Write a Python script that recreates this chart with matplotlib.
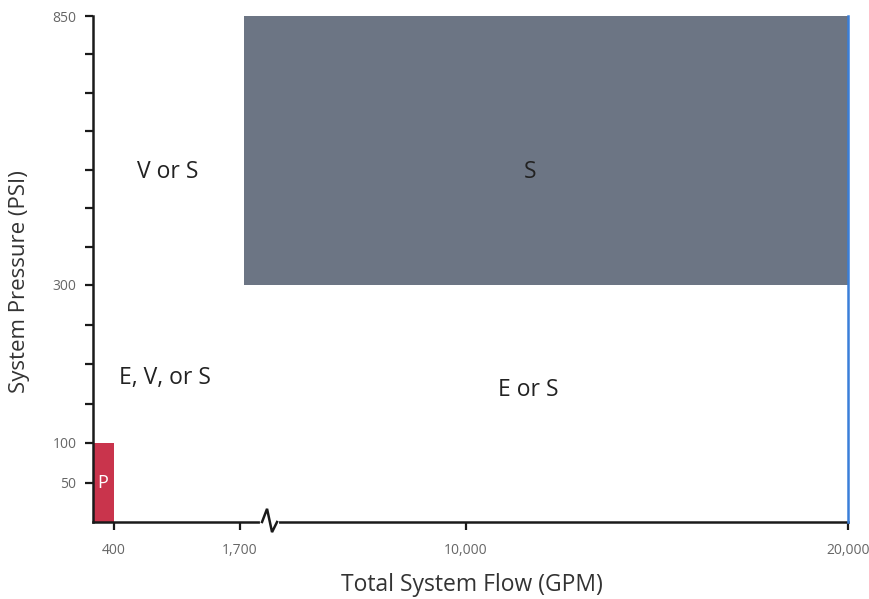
import matplotlib
matplotlib.use("Agg")
import matplotlib.pyplot as plt
import matplotlib.transforms as mtransforms
import numpy as np

plt.rcParams["font.family"] = ["Open Sans", "DejaVu Sans"]

# piecewise axis breakpoints (value -> relative length along the axis)
flow_breaks = [0, 400, 1700, 10000, 20000]
flow_pos = [0, 21, 147, 373, 755]
psi_breaks = [0, 300, 850]
psi_pos = [0, 237, 506]

flow_ticks = [400, 1700, 10000, 20000]
flow_labels = ["400", "1,700", "10,000", "20,000"]
psi_labeled = [50, 100, 300, 850]
psi_minor = [150, 200, 250] + [300 + k * 550 / 7 for k in range(1, 7)]

# regions: (flow_lo, flow_hi, psi_lo, psi_hi)
s_zone = (1850, 20000, 300, 850)
p_zone = (0, 400, 0, 100)
flow_max = 20000
break_at = 2730

zone_labels = [("V or S", 957, 531), ("S", 11675, 531),
               ("E, V, or S", 926, 182), ("E or S", 11620, 167)]


def fwd(b, p):
    return (lambda v: np.interp(v, b, p), lambda v: np.interp(v, p, b))


fig = plt.figure(figsize=(8.69, 5.99), dpi=100)
ax = fig.add_axes([93 / 869, 1 - 522 / 599, 755 / 869, 506 / 599])
ax.set_xscale("function", functions=fwd(flow_breaks, flow_pos))
ax.set_yscale("function", functions=fwd(psi_breaks, psi_pos))
ax.set_xlim(0, flow_max)
ax.set_ylim(0, 850)

x0, x1, y0, y1 = s_zone
ax.fill_between([x0, x1], y0, 858, color="#6c7584", lw=0, clip_on=False, zorder=1)
x0, x1, y0, y1 = p_zone
ax.fill_between([x0, x1], y0, y1, color="#c9344c", lw=0, zorder=1)
ax.plot([flow_max, flow_max], [0, 858], color="#3a7fd9", lw=1.8, clip_on=False, zorder=3)

for txt, fx, py in zone_labels:
    ax.text(fx, py, txt, fontsize=16.5, color="#222222", ha="center", va="center",
            fontweight="medium", zorder=4)
ax.text(190, 50, "P", fontsize=13, color="white", ha="center", va="center", zorder=4)

for side in ("top", "right"):
    ax.spines[side].set_visible(False)
for side in ("left", "bottom"):
    ax.spines[side].set_linewidth(1.8)
    ax.spines[side].set_color("#1a1a1a")

ax.set_xticks(flow_ticks)
ax.set_xticklabels(flow_labels)
ax.set_yticks(psi_labeled)
ax.set_yticklabels([str(v) for v in psi_labeled])
ax.set_yticks(psi_minor, minor=True)
ax.tick_params(axis="both", which="both", direction="out", length=6, width=1.6,
               color="#1a1a1a", labelsize=10, labelcolor="#666666", pad=6)
ax.tick_params(axis="x", which="minor", length=0)
ax.tick_params(axis="x", pad=9)

# zigzag break on the flow axis
tr = mtransforms.blended_transform_factory(ax.transData, ax.transAxes)
bx = np.interp(break_at, flow_breaks, flow_pos)
offs = [-6, -1, 4, 9]
zx = [np.interp(bx + o, flow_pos, flow_breaks) for o in offs]
ax.plot([zx[0], zx[3]], [0, 0], color="white", lw=3, transform=tr, clip_on=False, zorder=5)
ax.plot(zx, [0, 0.026, -0.02, 0], color="#1a1a1a", lw=1.8, transform=tr,
        clip_on=False, zorder=6, solid_joinstyle="miter")

ax.set_xlabel("Total System Flow (GPM)", fontsize=16.5, color="#333333")
ax.set_ylabel("System Pressure (PSI)", fontsize=16, color="#333333")
ax.xaxis.set_label_coords(0.502, -0.1)
ax.yaxis.set_label_coords(-0.084, 0.476)

fig.savefig("out.png", dpi=100)
